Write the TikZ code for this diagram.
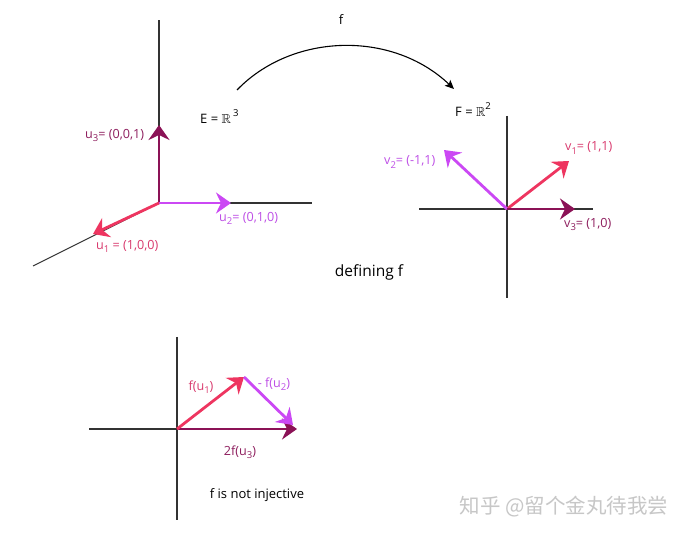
\documentclass[tikz,border=0pt]{standalone}
\usepackage{amssymb}
\usepackage{fontspec}
\setmainfont{Open Sans}
\newfontfamily\cjk{Noto Sans CJK SC}
\usetikzlibrary{arrows.meta}
\definecolor{cmaroon}{HTML}{8B1256}
\definecolor{cred}{HTML}{EE3560}
\definecolor{cmag}{HTML}{CB48F4}
\definecolor{lmaroon}{HTML}{8E1E5E}
\definecolor{lred}{HTML}{D93A6E}
\definecolor{lmag}{HTML}{BE4FE6}
\definecolor{axisgray}{HTML}{333333}
\tikzset{
  axis/.style={draw=axisgray, line width=1.1pt},
  vec/.style={line width=2.8pt, -{Stealth[length=15pt,width=21pt,inset=5pt]}},
  lbl/.style={inner sep=0pt, font=\fontsize{12.6}{14}\selectfont},
  txt/.style={inner sep=0pt, font=\fontsize{13}{15}\selectfont, text=black},
}
\newcommand{\sbs}[1]{\raisebox{-0.45ex}{\fontsize{9.5}{10}\selectfont #1}}
\newcommand{\sps}[1]{\raisebox{1.0ex}{\fontsize{9.5}{10}\selectfont #1}}
\begin{document}
\begin{tikzpicture}[x=1pt,y=-1pt]
\useasboundingbox[fill=white] (0,0) rectangle (686,534);
% ---------- 3D axes ----------
\coordinate (O1) at (159,203);
\coordinate (A1t) at (159,20);
\coordinate (A1r) at (312,203);
\coordinate (A1d) at (33,266);
\draw[axis] (O1) -- (A1t);
\draw[axis] (O1) -- (A1r);
\draw[axis] (O1) -- (A1d);
\coordinate (U3) at (159,125);
\coordinate (U2) at (231,203);
\coordinate (U1) at (93,234);
\draw[vec, cmaroon] (O1) -- (U3);
\draw[vec, cmag] (O1) -- (U2);
\draw[vec, cred] (O1) -- (U1);
\node[lbl, text=lmaroon, anchor=west] (lu3) at (85,135) {u\sbs{3}= (0,0,1)};
\node[lbl, text=lmag, anchor=west] (lu2) at (219,218) {u\sbs{2}= (0,1,0)};
\node[lbl, text=lred, anchor=west] (lu1) at (96,246) {u\sbs{1} = (1,0,0)};
\node[txt, anchor=west] (E) at (200,117) {E = $\mathbb{R}$\,\sps{3}};
% ---------- map arrow ----------
\coordinate (fa) at (237,90);
\coordinate (fb) at (454,89);
\draw[line width=1.1pt, black, -{Stealth[length=9pt,width=8pt,inset=2pt]}] (fa) .. controls (292,33) and (392,30) .. (fb);
\node[txt] (f) at (341,20) {f};
\node[txt, anchor=west] (F) at (455,110) {F = $\mathbb{R}$\sps{2}};
% ---------- 2D axes ----------
\coordinate (O2) at (507,209);
\coordinate (A2t) at (507,116);
\coordinate (A2b) at (507,298);
\coordinate (A2l) at (419,209);
\coordinate (A2r) at (593,209);
\draw[axis] (A2l) -- (A2r);
\draw[axis] (A2t) -- (A2b);
\coordinate (V1) at (569,161);
\coordinate (V2) at (444,150);
\coordinate (V3) at (575,209);
\draw[vec, cred] (O2) -- (V1);
\draw[vec, cmag] (O2) -- (V2);
\draw[vec, cmaroon] (O2) -- (V3);
\node[lbl, text=lred, anchor=west] (lv1) at (565,148) {v\sbs{1}= (1,1)};
\node[lbl, text=lmag, anchor=west] (lv2) at (384,162) {v\sbs{2}= (-1,1)};
\node[lbl, text=lmaroon, anchor=west] (lv3) at (564,224) {v\sbs{3}= (1,0)};
\node[txt, font=\fontsize{15.5}{17}\selectfont] (def) at (369,272) {defining f};
% ---------- bottom axes ----------
\coordinate (O3) at (177,429);
\coordinate (A3t) at (177,337);
\coordinate (A3b) at (177,520);
\coordinate (A3l) at (89,429);
\coordinate (A3r) at (296,429);
\draw[axis] (A3l) -- (A3r);
\draw[axis] (A3t) -- (A3b);
\coordinate (W1) at (244,377);
\coordinate (W2) at (293,425);
\coordinate (W3) at (297,429);
\draw[vec, cmaroon] (O3) -- (W3);
\draw[vec, cred] (O3) -- (W1);
\draw[vec, cmag] (W1) -- (W2);
\node[lbl, text=lred] (lw1) at (201,387) {f(u\sbs{1})};
\node[lbl, text=lmag] (lw2) at (274,384) {- f(u\sbs{2})};
\node[lbl, text=lmaroon] (lw3) at (240,452) {2f(u\sbs{3})};
\node[txt] (inj) at (257,495) {f is not injective};
% ---------- watermark ----------
\node[inner sep=0pt, text=black!22, font=\cjk\fontsize{20.5}{22}\selectfont] (wm) at (564,507) {知乎 @留个金丸待我尝};
\end{tikzpicture}
\end{document}
